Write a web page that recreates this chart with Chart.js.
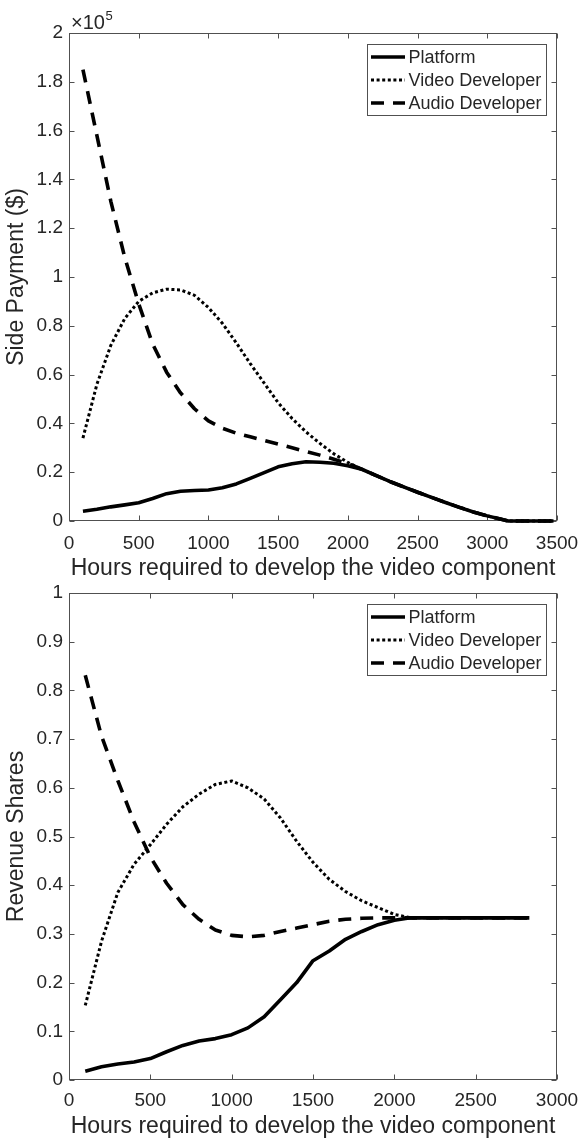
<!DOCTYPE html>
<html>
<head>
<meta charset="utf-8">
<script src="https://cdn.jsdelivr.net/npm/chart.js@4.4.1/dist/chart.umd.min.js"></script>
<style>
    html, body { margin: 0; padding: 0; background: #fff; }
    #chart1 { position: absolute; left: 0; top: 0; }
    #chart2 { position: absolute; left: 0; top: 580px; }
</style>
</head>
<body>
<canvas id="chart1" width="580" height="580"></canvas>
<canvas id="chart2" width="580" height="562"></canvas>
<script>
// Top panel: side payments (in $) against development hours
const hoursTop = [100, 200, 300, 400, 500, 600, 700, 800, 900, 1000,
    1100, 1200, 1300, 1400, 1500, 1600, 1700, 1800, 1900, 2000,
    2100, 2200, 2300, 2400, 2500, 2600, 2700, 2800, 2900, 3000,
    3100, 3150, 3200, 3300, 3400, 3475];
const platformPay = [4000, 4800, 5800, 6600, 7500, 9200, 11200, 12200, 12500, 12700,
    13600, 15200, 17500, 19800, 22200, 23500, 24300, 24100, 23700, 22600,
    21200, 18700, 16200, 14000, 11800, 9700, 7600, 5600, 3700, 2100,
    700, 0, 0, 0, 0, 0];
const videoPay = [34000, 56000, 72000, 83000, 90000, 93500, 95000, 94700, 92500, 87500,
    81000, 73000, 64500, 56500, 48500, 42000, 36500, 31800, 27500, 24000,
    21200, 18700, 16200, 14000, 11800, 9700, 7600, 5600, 3700, 2100,
    700, 0, 0, 0, 0, 0];
const audioPay = [185000, 158000, 131000, 108000, 89000, 72500, 61000, 52500, 46000, 41000,
    38000, 36000, 34500, 33000, 31500, 30000, 28500, 27000, 25300, 23500,
    21200, 18700, 16200, 14000, 11800, 9700, 7600, 5600, 3700, 2100,
    700, 0, 0, 0, 0, 0];

// Bottom panel: revenue shares
const hoursBottom = [100, 200, 300, 400, 500, 600, 700, 800, 900, 1000,
    1100, 1200, 1300, 1400, 1500, 1600, 1700, 1800, 1900, 2000,
    2100, 2200, 2300, 2400, 2500, 2600, 2700, 2800, 2830];
const platformShare = [0.018, 0.027, 0.033, 0.037, 0.044, 0.058, 0.071, 0.080, 0.085, 0.093,
    0.107, 0.130, 0.165, 0.200, 0.245, 0.265, 0.289, 0.305, 0.319, 0.328,
    0.333, 0.333, 0.333, 0.333, 0.333, 0.333, 0.333, 0.333, 0.333];
const videoShare = [0.153, 0.285, 0.385, 0.443, 0.483, 0.525, 0.561, 0.587, 0.607, 0.614,
    0.600, 0.577, 0.538, 0.490, 0.447, 0.412, 0.387, 0.368, 0.354, 0.340,
    0.333, 0.333, 0.333, 0.333, 0.333, 0.333, 0.333, 0.333, 0.333];
const audioShare = [0.831, 0.706, 0.615, 0.530, 0.458, 0.404, 0.360, 0.330, 0.308, 0.297,
    0.294, 0.297, 0.305, 0.312, 0.319, 0.326, 0.330, 0.332, 0.333, 0.333,
    0.333, 0.333, 0.333, 0.333, 0.333, 0.333, 0.333, 0.333, 0.333];

const seriesNames = ['Platform', 'Video Developer', 'Audio Developer'];
const xTitle = 'Hours required to develop the video component';

const textColor = '#262626';
const axisColor = '#505050';
const fontName = '"Liberation Sans", Arial, Helvetica, sans-serif';

Chart.defaults.font.family = fontName;
Chart.defaults.color = textColor;

function toPoints(xs, ys) {
    return xs.map((x, i) => ({ x: x, y: ys[i] }));
}

// MATLAB-like box: full frame, inward ticks, legend inside the axes, x10^5 exponent
const matlabAxes = {
    id: 'matlabAxes',
    beforeDatasetsDraw(chart) {
        const ctx = chart.ctx;
        const a = chart.chartArea;
        const xs = chart.scales.x;
        const ys = chart.scales.y;
        const L = Math.round(a.left) + 0.5, R = Math.round(a.right) - 0.5;
        const T = Math.round(a.top) + 0.5, B = Math.round(a.bottom) - 0.5;
        ctx.save();
        ctx.strokeStyle = axisColor;
        ctx.lineWidth = 1;
        ctx.strokeRect(L, T, R - L, B - T);
        ctx.beginPath();
        xs.ticks.forEach(t => {
            const px = Math.round(xs.getPixelForValue(t.value)) + 0.5;
            ctx.moveTo(px, B); ctx.lineTo(px, B - 5);
            ctx.moveTo(px, T); ctx.lineTo(px, T + 5);
        });
        ys.ticks.forEach(t => {
            const py = Math.round(ys.getPixelForValue(t.value)) + 0.5;
            ctx.moveTo(L, py); ctx.lineTo(L + 5, py);
            ctx.moveTo(R, py); ctx.lineTo(R - 5, py);
        });
        ctx.stroke();
        ctx.restore();
    },
    afterDraw(chart, args, opts) {
        const ctx = chart.ctx;
        const a = chart.chartArea;
        ctx.save();

        // legend box
        const right = Math.round(a.right) - 10.5;
        const left = 367.5;
        const top = Math.round(a.top) + 11.5;
        ctx.fillStyle = '#fff';
        ctx.fillRect(left, top, right - left, 71);
        ctx.strokeStyle = axisColor;
        ctx.lineWidth = 1;
        ctx.setLineDash([]);
        ctx.strokeRect(left, top, right - left, 71);
        ctx.font = '18px ' + fontName;
        ctx.textBaseline = 'middle';
        ctx.textAlign = 'left';
        chart.data.datasets.forEach((ds, i) => {
            const cy = top + 12.5 + i * 23;
            ctx.strokeStyle = ds.borderColor;
            ctx.lineWidth = ds.borderWidth;
            ctx.setLineDash(ds.borderDash);
            ctx.beginPath();
            ctx.moveTo(371, cy);
            ctx.lineTo(405, cy);
            ctx.stroke();
            ctx.fillStyle = textColor;
            ctx.fillText(ds.label, 408.5, cy + 1);
        });

        // exponent of the y axis
        if (opts.exponent) {
            ctx.setLineDash([]);
            ctx.fillStyle = textColor;
            ctx.textBaseline = 'alphabetic';
            ctx.font = '20px ' + fontName;
            ctx.fillText('\u00d710', 71, 29);
            const w = ctx.measureText('\u00d710').width;
            ctx.font = '13px ' + fontName;
            ctx.fillText(opts.exponent, 71 + w + 0.5, 20);
        }
        ctx.restore();
    }
};

function makeChart(canvasId, hours, lines, cfg) {
    const ctx = document.getElementById(canvasId).getContext('2d');
    const styles = [
        { dash: [], width: 3.6 },
        { dash: [3, 2.6], width: 3 },
        { dash: [13, 9], width: 3.6 }
    ];
    const datasets = lines.map((vals, i) => ({
        label: seriesNames[i],
        data: toPoints(hours, vals),
        borderColor: '#000',
        backgroundColor: '#000',
        borderWidth: styles[i].width,
        borderDash: styles[i].dash,
        borderCapStyle: 'butt',
        borderJoinStyle: 'round',
        pointRadius: 0,
        tension: 0,
        fill: false,
        clip: false
    }));

    return new Chart(ctx, {
        type: 'line',
        data: { datasets: datasets },
        options: {
            responsive: false,
            animation: false,
            events: [],
            layout: { padding: { top: cfg.padTop, right: 23, left: 0, bottom: 0 } },
            plugins: {
                legend: { display: false },
                tooltip: { enabled: false },
                matlabAxes: { exponent: cfg.exponent }
            },
            scales: {
                x: {
                    type: 'linear',
                    min: 0,
                    max: cfg.xMax,
                    grid: { display: false, drawTicks: false },
                    border: { display: false },
                    ticks: {
                        stepSize: 500,
                        autoSkip: false,
                        maxRotation: 0,
                        padding: cfg.xTickPad,
                        font: { size: 19 },
                        color: textColor,
                        callback: v => String(v)
                    },
                    title: {
                        display: true,
                        text: xTitle,
                        font: { size: 23, lineHeight: 1 },
                        color: textColor,
                        padding: { top: 0, bottom: cfg.xTitlePad }
                    },
                    afterFit: s => {
                        s.height = cfg.xAxisHeight;
                        s.paddingLeft = 0;
                        s.paddingRight = 0;
                    }
                },
                y: {
                    type: 'linear',
                    min: 0,
                    max: cfg.yMax,
                    grid: { display: false, drawTicks: false },
                    border: { display: false },
                    ticks: {
                        stepSize: cfg.yStep,
                        autoSkip: false,
                        padding: 6,
                        font: { size: 19 },
                        color: textColor,
                        callback: v => String(+(v / cfg.yScale).toFixed(1))
                    },
                    title: {
                        display: true,
                        text: cfg.yTitle,
                        font: { size: 23, lineHeight: 1 },
                        color: textColor,
                        padding: { top: 5, bottom: 0 }
                    },
                    afterFit: s => {
                        s.width = 69;
                        s.paddingTop = 0;
                        s.paddingBottom = 0;
                    }
                }
            }
        },
        plugins: [matlabAxes]
    });
}

makeChart('chart1', hoursTop, [platformPay, videoPay, audioPay], {
    padTop: 33, xMax: 3500, yMax: 200000, yStep: 20000, yScale: 100000,
    yTitle: 'Side Payment ($)', exponent: '5',
    xAxisHeight: 59, xTickPad: 11, xTitlePad: 0
});

makeChart('chart2', hoursBottom, [platformShare, videoShare, audioShare], {
    padTop: 13, xMax: 3000, yMax: 1, yStep: 0.1, yScale: 1,
    yTitle: 'Revenue Shares', exponent: null,
    xAxisHeight: 62, xTickPad: 9, xTitlePad: 4
});
</script>
</body>
</html>
